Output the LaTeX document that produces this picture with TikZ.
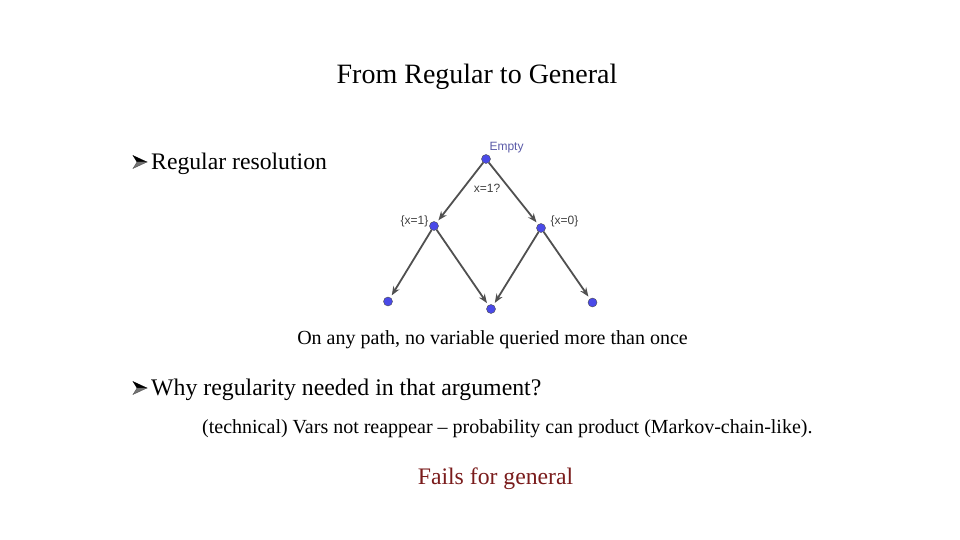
\documentclass[tikz,border=0pt]{standalone}
\usepackage{fontspec}
\setmainfont{Liberation Serif}
\newfontfamily\diasans{Liberation Sans}
\usetikzlibrary{arrows.meta}
\definecolor{dotblue}{HTML}{4A4AE8}
\definecolor{edgegray}{HTML}{505050}
\definecolor{labblue}{HTML}{5A5AA8}
\definecolor{failred}{HTML}{7A1C1C}
\tikzset{
  txt/.style={inner sep=0pt, font=\fontsize{#1}{#1}\selectfont},
  dot/.style={circle, fill=dotblue, draw=black!70, line width=0.4pt, minimum size=9pt, inner sep=0pt},
  edge/.style={draw=edgegray, line width=1.8pt, -{Stealth[length=9pt,width=7pt]}, shorten >=2.5pt},
  dlab/.style={inner sep=0pt, font=\diasans\fontsize{12}{12}\selectfont, text=black!75},
  bulshape/.style={fill=black, draw=black, line width=0.3pt, line join=miter},
}
\newcommand{\bulletarrow}[2]{%
  \fill[bulshape] (#1+14,#2) -- (#1,#2-6.5) -- (#1+4,#2) -- cycle;
  \fill[bulshape, fill=black!55, draw=black!70] (#1+14,#2) -- (#1+4,#2) -- (#1,#2+6.5) -- cycle;
}
\begin{document}
\begin{tikzpicture}[x=1pt,y=-1pt]
\useasboundingbox[fill=white] (0,0) rectangle (960,540);
% title
\node[txt=28] (title) at (477,77) {From Regular to General};
% bullet 1
\bulletarrow{133}{162}
\node[txt=23.7, anchor=west] (t1) at (151,164) {Regular resolution};
% diagram
\node[dot] (top) at (486,159) {};
\node[dot] (l) at (434,226) {};
\node[dot] (r) at (541,228) {};
\node[dot] (bl) at (388,301.5) {};
\node[dot] (bm) at (491,309) {};
\node[dot] (br) at (592.5,302.5) {};
\node[dlab, text=labblue] (empty) at (506.5,147.5) {Empty};
\node[dlab] (q) at (487,188) {x=1?};
\node[dlab] (lx1) at (414.5,221.5) {\{x=1\}};
\node[dlab] (lx0) at (564.5,221.5) {\{x=0\}};
\draw[edge] (top) -- (l);
\draw[edge] (top) -- (r);
\draw[edge] (l) -- (bl);
\draw[edge] (l) -- (bm);
\draw[edge] (r) -- (bm);
\draw[edge] (r) -- (br);
% caption
\node[txt=20] (cap) at (492.5,340) {On any path, no variable queried more than once};
% bullet 2
\bulletarrow{133}{388}
\node[txt=23.8, anchor=west] (t2) at (151,390) {Why regularity needed in that argument?};
\node[txt=20, anchor=west] (t3) at (202,429) {(technical) Vars not reappear -- probability can product (Markov-chain-like).};
\node[txt=23.7, text=failred] (fail) at (495.5,479) {Fails for general};
\end{tikzpicture}
\end{document}
